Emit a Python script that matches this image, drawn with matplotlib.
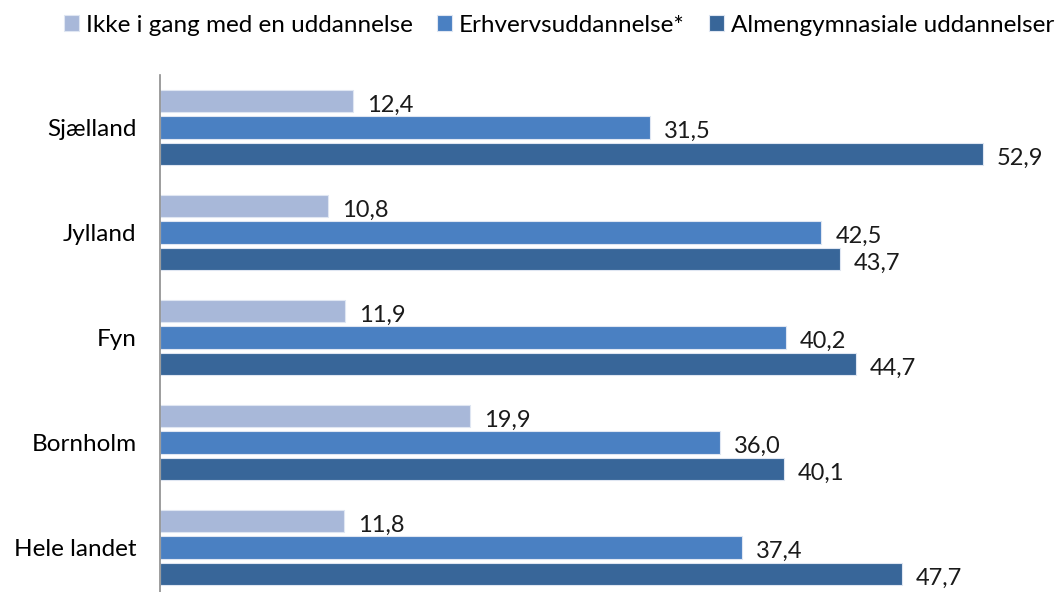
import numpy as np
import matplotlib.pyplot as plt

plt.rcParams['font.family'] = ['Lato', 'DejaVu Sans']

regions = ["Sjælland", "Jylland", "Fyn", "Bornholm", "Hele landet"]
series = ["Ikke i gang med en uddannelse", "Erhvervsuddannelse*", "Almengymnasiale uddannelser"]
ikke = [12.4, 10.8, 11.9, 19.9, 11.8]
erhverv = [31.5, 42.5, 40.2, 36.0, 37.4]
almen = [52.9, 43.7, 44.7, 40.1, 47.7]
colors = ["#a8b8d9", "#4a80c2", "#386699"]

fig = plt.figure(figsize=(10.59, 5.92), dpi=100)
# axes: x=0 at 160px, one category = 105px
ax = fig.add_axes([160 / 1059, -8 / 592, 880 / 1059, 525 / 592])

y = np.arange(len(regions))
pitch = 0.252
h = 0.21
for k, (vals, name) in enumerate(zip([ikke, erhverv, almen], series)):
    pos = y + (k - 1) * pitch
    ax.barh(pos, vals, height=h, color=colors[k], edgecolor="#dfe6f2",
            linewidth=0.8, label=name)
    for p, v in zip(pos, vals):
        ax.text(v + 0.9, p + 0.04, f"{v:.1f}".replace(".", ","),
                va="center", ha="left", fontsize=17, color="#1a1a1a")

ax.set_xlim(0, 880 / 15.56)
ax.set_ylim(len(regions) - 0.5, -0.5)
ax.set_yticks(y)
ax.set_yticklabels(regions, fontsize=17.5)
ax.tick_params(axis="y", length=0, pad=17)
ax.set_xticks([])
for s in ["top", "right", "bottom"]:
    ax.spines[s].set_visible(False)
ax.spines["left"].set_color("#8c8c8c")
ax.spines["left"].set_linewidth(1.2)

fig.legend(loc="upper center", bbox_to_anchor=(0.528, 1.012), ncol=3,
           frameon=False, fontsize=17.5, handlelength=0.6, handleheight=0.6,
           handletextpad=0.3, columnspacing=1.0)

fig.savefig("out.png", dpi=100)
